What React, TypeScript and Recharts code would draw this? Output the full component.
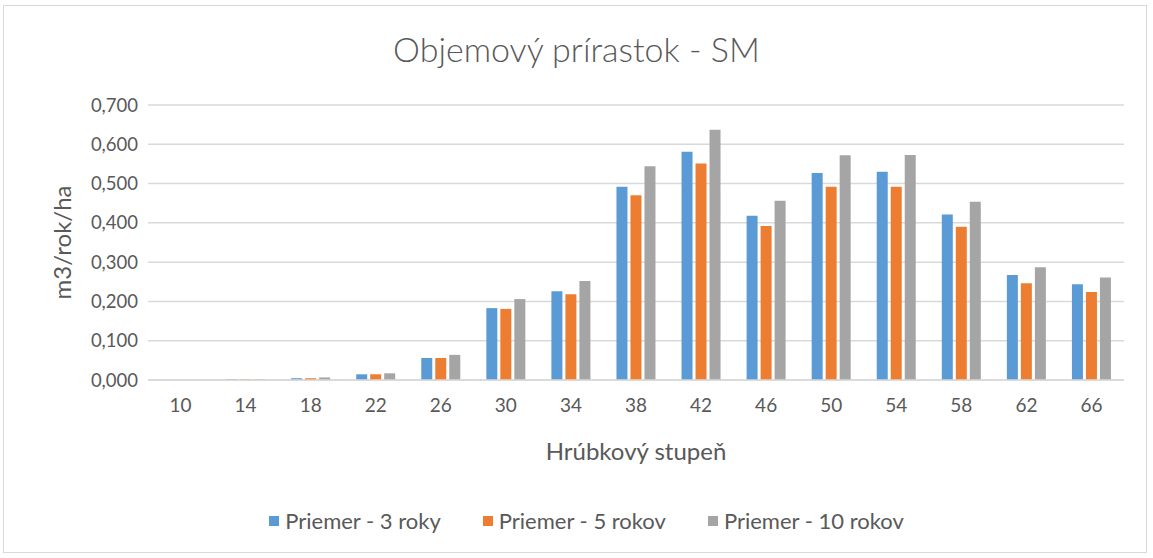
import React from 'react';
import { BarChart, Bar, XAxis, YAxis, CartesianGrid, Label } from 'recharts';

const categories = ['10', '14', '18', '22', '26', '30', '34', '38', '42', '46', '50', '54', '58', '62', '66'];
const avg3 = [0, 0.002, 0.0045, 0.0145, 0.056, 0.183, 0.226, 0.492, 0.581, 0.418, 0.527, 0.530, 0.421, 0.267, 0.244];
const avg5 = [0, 0.002, 0.0045, 0.0145, 0.056, 0.181, 0.218, 0.470, 0.551, 0.392, 0.492, 0.492, 0.390, 0.246, 0.224];
const avg10 = [0, 0.002, 0.0065, 0.017, 0.064, 0.206, 0.252, 0.544, 0.637, 0.456, 0.572, 0.573, 0.454, 0.287, 0.261];
const yTicks = [0, 0.1, 0.2, 0.3, 0.4, 0.5, 0.6, 0.7];

const series = [
  { key: 'a3', name: 'Priemer - 3 roky', color: '#5b9bd5', values: avg3 },
  { key: 'a5', name: 'Priemer - 5 rokov', color: '#ed7d31', values: avg5 },
  { key: 'a10', name: 'Priemer - 10 rokov', color: '#a5a5a5', values: avg10 },
];

const data = categories.map((c, i) => {
  const row: Record<string, any> = { cat: c };
  series.forEach((s) => (row[s.key] = s.values[i]));
  return row;
});

const FONT = 'Lato, "Open Sans", sans-serif';
const TEXT = '#595959';

export default function App() {
  return (
    <div style={{ position: 'absolute', left: 0, top: 0, width: 1153, height: 558, background: '#fff' }}>
      <div style={{ position: 'absolute', left: 3, top: 5, width: 1144, height: 548, border: '1px solid #d9d9d9', boxSizing: 'border-box' }} />
      <div style={{ position: 'absolute', left: 0, top: 27, width: 1153, textAlign: 'center', fontFamily: FONT, fontSize: 34, fontWeight: 300, color: TEXT, lineHeight: '44px' }}>
        Objemový prírastok - SM
      </div>
      <BarChart
        width={1153}
        height={558}
        data={data}
        margin={{ top: 105, right: 29, bottom: 148, left: 68 }}
        barCategoryGap="19%"
        barGap={3}
        style={{ position: 'absolute', left: 0, top: 0 }}
      >
        <CartesianGrid vertical={false} stroke="#d9d9d9" strokeWidth={1.5} />
        <XAxis
          dataKey="cat"
          height={30}
          axisLine={{ stroke: '#d9d9d9', strokeWidth: 1.5 }}
          tickLine={false}
          tick={{ fill: TEXT, fontSize: 19, fontFamily: FONT }}
          tickMargin={13}
          interval={0}
        >
          <Label value="Hrúbkový stupeň" position="bottom" offset={33} style={{ fill: TEXT, fontSize: 24, fontFamily: FONT }} />
        </XAxis>
        <YAxis
          width={80}
          domain={[0, 0.7]}
          ticks={yTicks}
          axisLine={false}
          tickLine={false}
          tick={{ fill: TEXT, fontSize: 18.5, fontFamily: FONT }}
          tickFormatter={(v: number) => v.toFixed(3).replace('.', ',')}
          tickMargin={4}
        >
          <Label value="m3/rok/ha" angle={-90} position="insideLeft" offset={-6} style={{ fill: TEXT, fontSize: 24, fontFamily: FONT, textAnchor: 'middle' }} />
        </YAxis>
        {series.map((s) => (
          <Bar key={s.key} dataKey={s.key} name={s.name} fill={s.color} barSize={11} isAnimationActive={false} />
        ))}
      </BarChart>
      <div style={{ position: 'absolute', top: 507, left: 10, width: 1153, display: 'flex', justifyContent: 'center', gap: 42, fontFamily: FONT, fontSize: 22, color: TEXT, lineHeight: '28px' }}>
        {series.map((s) => (
          <div key={s.key} style={{ display: 'flex', alignItems: 'center' }}>
            <span style={{ width: 10, height: 10, background: s.color, display: 'inline-block', marginRight: 6 }} />
            <span>{s.name}</span>
          </div>
        ))}
      </div>
    </div>
  );
}
